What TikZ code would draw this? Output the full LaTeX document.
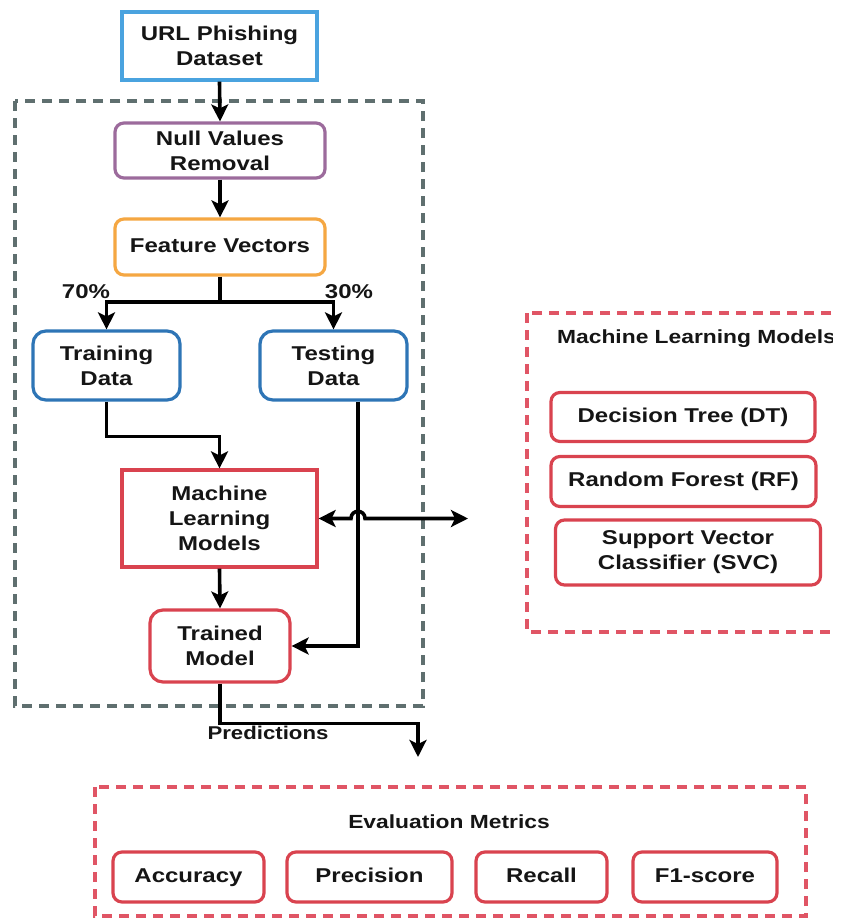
\documentclass[tikz,border=0pt]{standalone}
\usepackage{fontspec}
\setmainfont{Liberation Sans}[FakeStretch=1.2]
\usetikzlibrary{arrows.meta,calc}
\definecolor{urlblue}{HTML}{4AA3DF}
\definecolor{databue}{HTML}{2E75B6}
\definecolor{nullpurple}{HTML}{9C6B9C}
\definecolor{featorange}{HTML}{F5A742}
\definecolor{mlred}{HTML}{D9434F}
\definecolor{dashred}{HTML}{E05565}
\definecolor{dashgray}{HTML}{5F6F6F}
\definecolor{txt}{HTML}{151515}
\tikzset{
  tip/.tip={Stealth[length=17pt,width=17pt,inset=4pt]},
  base/.style={draw, line width=3.2pt, align=center, text=txt, inner sep=0pt,
    font=\fontsize{20}{25}\selectfont\bfseries},
  sharpbox/.style={base},
  roundbox/.style={base, rounded corners=9pt},
  oneline/.style={text height=14.5pt, text depth=4pt},
  conn/.style={line width=3.6pt, draw=black, -tip},
  plainconn/.style={line width=3.6pt, draw=black},
  dashbox/.style={line width=3.2pt, dash pattern=on 10pt off 7pt},
  lbl/.style={text=txt, inner sep=0pt, font=\fontsize{18.5}{22}\selectfont\bfseries},
}
\begin{document}
\begin{tikzpicture}[x=1pt,y=-1pt]
\useasboundingbox (0,0) rectangle (842,919);
\fill[white] (0,0) rectangle (842,919);

% outer gray dashed box
\draw[dashbox, draw=dashgray] (15,101) rectangle (423,706);

% main nodes
\node[sharpbox, draw=urlblue, minimum width=195pt, minimum height=68pt] (url) at (219.5,46) {URL Phishing\\Dataset};
\node[roundbox, draw=nullpurple, minimum width=210pt, minimum height=55pt] (null) at (220,150.5) {Null Values\\Removal};
\node[roundbox, oneline, draw=featorange, minimum width=210pt, minimum height=56pt] (feat) at (220,247) {Feature Vectors};
\node[roundbox, draw=databue, rounded corners=13pt, minimum width=147pt, minimum height=69pt] (train) at (106.5,365.5) {Training\\Data};
\node[roundbox, draw=databue, rounded corners=13pt, minimum width=147pt, minimum height=69pt] (test) at (333.5,365.5) {Testing\\Data};
\node[sharpbox, draw=mlred, minimum width=195pt, minimum height=97pt] (ml) at (219.5,518.5) {Machine\\Learning\\Models};
\node[roundbox, draw=mlred, rounded corners=13pt, minimum width=140pt, minimum height=72pt] (trained) at (220,646) {Trained\\Model};

% labels
\node[lbl, font=\fontsize{20}{22}\selectfont\bfseries] (p70) at (86,292) {70\%};
\node[lbl, font=\fontsize{20}{22}\selectfont\bfseries] (p30) at (349,292) {30\%};
\node[lbl] (pred) at (268,733) {Predictions};

% connectors
\draw[conn] (url.south) -- (null.north);
\draw[conn] (null.south) -- (feat.north);
\coordinate (split) at (220,302);
\draw[plainconn] (feat.south) -- (split);
\draw[conn] (split) -| (train.north);
\draw[conn] (split) -| (test.north);
\draw[conn] (train.south) -- ++(0,35) -| (ml.north);
\draw[conn] (ml.south) -- (trained.north);
\coordinate (tb) at ([xshift=24.5pt]test.south);
\draw[conn] (tb) |- (trained.east);
\coordinate (mlout) at (468,518.5);
\draw[line width=3.6pt, tip-tip]
  (ml.east) -- (351,518.5) .. controls (351,509) and (365,509) .. (365,518.5) -- (mlout);
\coordinate (predend) at (418,757);
\draw[conn] (trained.south) -- ++(0,40) -| (predend);

% right box: machine learning models
\begin{scope}
\clip (500,295) rectangle (832,650);
\draw[dashbox, draw=dashred] (527,313) rectangle (870,632);
\node[lbl, font=\fontsize{19}{22}\selectfont\bfseries, anchor=west] (mltitle) at (557,339) {Machine Learning Models};
\end{scope}
\node[roundbox, oneline, draw=mlred, minimum width=264pt, minimum height=49pt] (dt) at (683,417) {Decision Tree (DT)};
\node[roundbox, oneline, draw=mlred, minimum width=265pt, minimum height=50pt] (rf) at (683.5,481.5) {Random Forest (RF)};
\node[roundbox, draw=mlred, minimum width=265pt, minimum height=65pt] (svc) at (688,552.5) {Support Vector\\Classifier (SVC)};

% evaluation metrics
\draw[dashbox, draw=dashred] (95,787) rectangle (806,916);
\node[lbl, font=\fontsize{19}{22}\selectfont\bfseries] (evtitle) at (449,822) {Evaluation Metrics};
\node[roundbox, oneline, draw=mlred, minimum width=151pt, minimum height=50pt] (acc) at (188.5,877) {Accuracy};
\node[roundbox, oneline, draw=mlred, minimum width=165pt, minimum height=50pt] (prec) at (369.5,877) {Precision};
\node[roundbox, oneline, draw=mlred, minimum width=131pt, minimum height=50pt] (rec) at (541.5,877) {Recall};
\node[roundbox, oneline, draw=mlred, minimum width=144pt, minimum height=50pt] (f1) at (705,877) {F1-score};
\end{tikzpicture}
\end{document}
